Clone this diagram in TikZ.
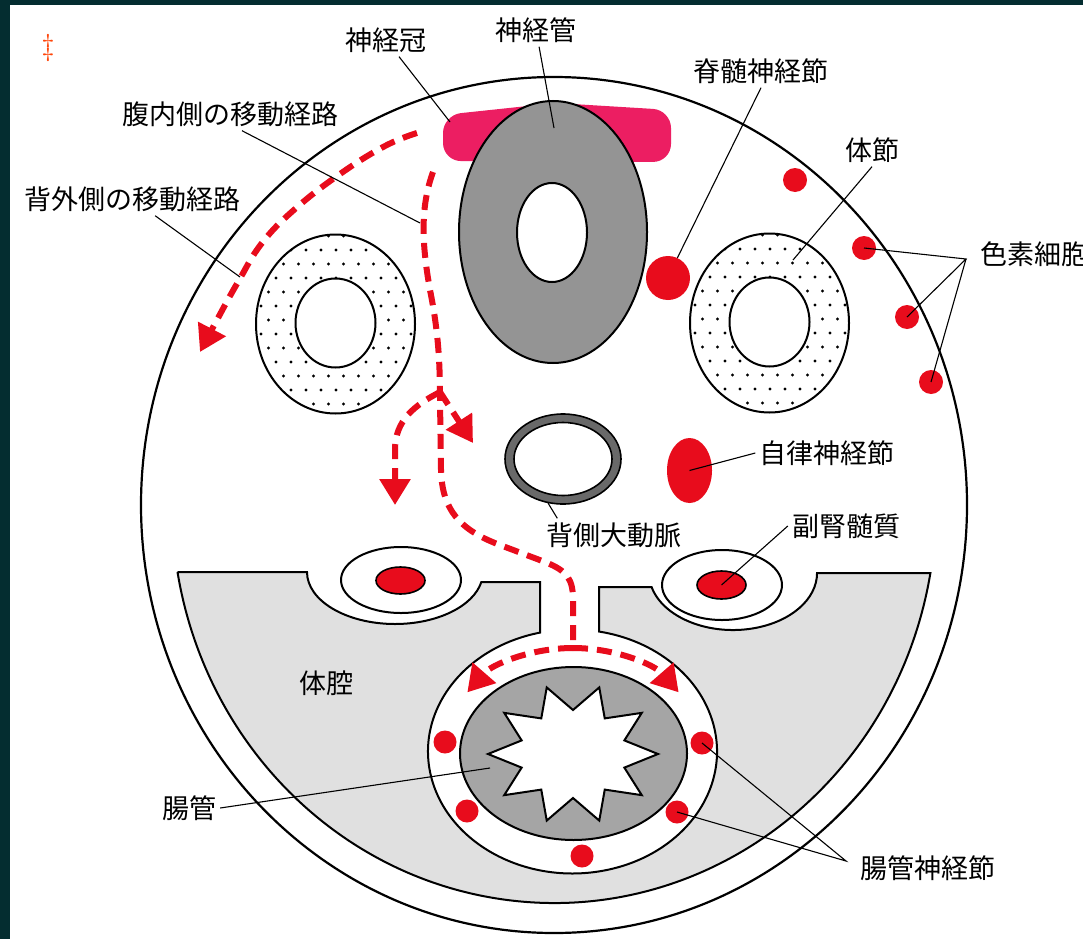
\documentclass[tikz,border=0pt]{standalone}
\usepackage{fontspec}
\usepackage{tikz}
\usetikzlibrary{shapes.geometric,arrows.meta}
\newfontfamily\jpfont{Noto Sans CJK JP}
\definecolor{slidebg}{RGB}{4,45,48}
\definecolor{nred}{RGB}{232,12,28}
\definecolor{crestpink}{RGB}{236,30,98}
\definecolor{tubegray}{RGB}{148,148,148}
\definecolor{gutgray}{RGB}{165,165,165}
\definecolor{cavitygray}{RGB}{224,224,224}
\definecolor{aortagray}{RGB}{105,105,105}
\definecolor{dagred}{RGB}{255,70,10}
\tikzstyle{tag}=[font=\jpfont\fontsize{27}{30}\selectfont, inner sep=4pt]
\tikzstyle{leader}=[black, line width=1.1pt]
\tikzstyle{outline}=[black, line width=2pt]
\tikzstyle{route}=[nred, line width=6pt, dash pattern=on 15pt off 9pt,
  -{Triangle[length=26pt,width=30pt]}]
\tikzstyle{redcell}=[circle, fill=nred, inner sep=0pt, minimum size=24pt]

\begin{document}
\begin{tikzpicture}[x=1pt,y=-1pt]

    \useasboundingbox (0,0) rectangle (1083,939);
    \fill[slidebg] (0,0) rectangle (1083,939);
    \fill[white] (10,5) rectangle (1083,939);
    \node[text=dagred, font=\fontsize{30}{30}\selectfont] (dag) at (48,48) {\ddag};

    % body wall and coelom
    \draw[outline, line width=2.2pt] (554,505) ellipse[x radius=413, y radius=428];
    \draw[outline, fill=cavitygray] (177.5,572) -- (307,572)
      arc[start angle=180, end angle=11.1, x radius=88, y radius=52] -- (540,582)
      -- (540,632.6) arc[start angle=257, end angle=-79.4, x radius=144.5, y radius=122]
      -- (599,587) -- (651.6,587)
      arc[start angle=165.8, end angle=0, x radius=84, y radius=57] -- (930.4,573)
      arc[start angle=9.84, end angle=170.31, x radius=382, y radius=398] -- cycle;

    % gut with star shaped lumen
    \draw[outline, fill=gutgray] (573.5,753.5) ellipse[x radius=113.5, y radius=86.5];
    \begin{scope}[shift={(573,754)}]
      \draw[outline, fill=white] (0:85 and 70)
        \foreach \a in {36,72,...,324} { -- ({\a-18}:54 and 44) -- (\a:85 and 70) }
        -- (342:54 and 44) -- cycle;
    \end{scope}

    % adrenal glands
    \draw[outline, fill=white] (401,580) ellipse[x radius=60, y radius=33];
    \draw[outline, fill=white] (722,585) ellipse[x radius=60, y radius=35];
    \node[ellipse, draw, line width=1.6pt, fill=nred, inner sep=0pt,
      minimum width=49pt, minimum height=27pt] (adrL) at (400.5,580.5) {};
    \node[ellipse, draw, line width=1.6pt, fill=nred, inner sep=0pt,
      minimum width=49pt, minimum height=28pt] (adrR) at (721.5,585) {};

    % neural crest and neural tube
    \fill[crestpink, rounded corners=18pt] (443,161) -- (443,115) -- (556,103)
      -- (671,110) -- (671,162) -- cycle;
    \draw[outline, fill=tubegray] (553,232) ellipse[x radius=94, y radius=131];
    \draw[outline, fill=white] (552,232.5) ellipse[x radius=35, y radius=49.5];

    % somites, dotted
    \foreach \sx/\sy in {335.5/324, 769.5/323} {
      \begin{scope}
        \clip (\sx,\sy) ellipse[x radius=79.5, y radius=89.5];
        \fill[white] (\sx,\sy) ellipse[x radius=79.5, y radius=89.5];
        \foreach \r in {0,...,13}
          \foreach \c in {0,...,11}
            \fill ({\sx-82+15*\c+7.5*mod(\r,2)}, {\sy-88+14*\r}) circle[radius=1.7];
      \end{scope}
      \draw[outline] (\sx,\sy) ellipse[x radius=79.5, y radius=89.5];
      \draw[outline, fill=white] (\sx,\sy-1) ellipse[x radius=40, y radius=44.5];
    }

    % dorsal aorta
    \draw[outline, fill=aortagray, line width=1.6pt] (563,459) ellipse[x radius=58, y radius=45];
    \draw[outline, fill=white, line width=1.6pt] (563,459) ellipse[x radius=49, y radius=36.5];

    % neural crest derivatives
    \node[redcell, minimum size=44pt] (drg) at (668,278) {};
    \node[ellipse, fill=nred, inner sep=0pt, minimum width=45pt, minimum height=65pt] (ans) at (689.5,470.5) {};
    \node[redcell] (pc1) at (795,180) {};
    \node[redcell] (pc2) at (864,248) {};
    \node[redcell] (pc3) at (907,317) {};
    \node[redcell] (pc4) at (931,382) {};
    \node[redcell, minimum size=23pt] (eg1) at (445,742) {};
    \node[redcell, minimum size=23pt] (eg2) at (467,811) {};
    \node[redcell, minimum size=23pt] (eg3) at (582,856) {};
    \node[redcell, minimum size=23pt] (eg4) at (677,812) {};
    \node[redcell, minimum size=23pt] (eg5) at (702,743) {};

    % migration routes
    \draw[route] plot[smooth, tension=0.7] coordinates {(417,133) (385,146) (340,174)
      (295,209) (262,243) (238,282) (218,318) (200,352)};
    \draw[route, -] (433,172) .. controls (421,205) and (421,240) .. (430,290)
      .. controls (438,330) and (440,360) .. (440,400) -- (441,470)
      .. controls (442,510) and (460,530) .. (500,545) -- (545,562)
      .. controls (568,571) and (573,580) .. (573,600) -- (573,648);
    \draw[route] (440,392) .. controls (415,405) and (395,420) .. (395,450) -- (395,505);
    \draw[route] (440,392) -- (473,443);
    \draw[route] (573,648) arc[start angle=270, end angle=215, x radius=129, y radius=104];
    \draw[route] (573,648) arc[start angle=270, end angle=325, x radius=129, y radius=104];

    % labels
    \node[tag] (lblCrest) at (386,40) {神経冠};
    \node[tag] (lblTube) at (536,30) {神経管};
    \node[tag] (lblDRG) at (761,71) {脊髄神経節};
    \node[tag] (lblSomite) at (872,150) {体節};
    \node[tag, anchor=west, inner xsep=14pt] (lblPigment) at (966,254) {色素細胞};
    \node[tag] (lblVentral) at (230,114) {腹内側の移動経路};
    \node[tag] (lblDorsal) at (132,199) {背外側の移動経路};
    \node[tag] (lblAorta) at (614,535) {背側大動脈};
    \node[tag] (lblANS) at (827,453) {自律神経節};
    \node[tag] (lblAdrenal) at (846,526) {副腎髄質};
    \node[tag] (lblCoelom) at (326,683) {体腔};
    \node[tag] (lblGut) at (189,808) {腸管};
    \node[tag, anchor=west, inner xsep=14pt] (lblENS) at (846,868) {腸管神経節};

    \coordinate (crestPt) at (450,122);
    \coordinate (tubePt) at (554,128);
    \coordinate (somitePt) at (793,260);
    \coordinate (ventralPt) at (420,223);
    \coordinate (dorsalPt) at (240,277);
    \coordinate (aortaPt) at (548,503);
    \coordinate (gutPt) at (490,768);

    \draw[leader] (lblCrest) -- (crestPt);
    \draw[leader] (lblTube) -- (tubePt);
    \draw[leader] (lblDRG.south) -- (drg.65);
    \draw[leader] (lblSomite.south) -- (somitePt);
    \draw[leader] (pc2.center) -- ([yshift=-5pt]lblPigment.west) -- (pc3.center);
    \draw[leader] ([yshift=-5pt]lblPigment.west) -- (pc4.center);
    \draw[leader] ([xshift=12pt]lblVentral.south) -- (ventralPt);
    \draw[leader] (lblDorsal) -- (dorsalPt);
    \draw[leader] ([xshift=15pt]lblAorta.north west) -- (aortaPt);
    \draw[leader] (lblANS.west) -- (ans.center);
    \draw[leader] (lblAdrenal.west) -- (adrR.center);
    \draw[leader] (lblGut.east) -- (gutPt);
    \draw[leader] (eg5.center) -- ([yshift=7pt]lblENS.west) -- (eg4.center);

\end{tikzpicture}
\end{document}
